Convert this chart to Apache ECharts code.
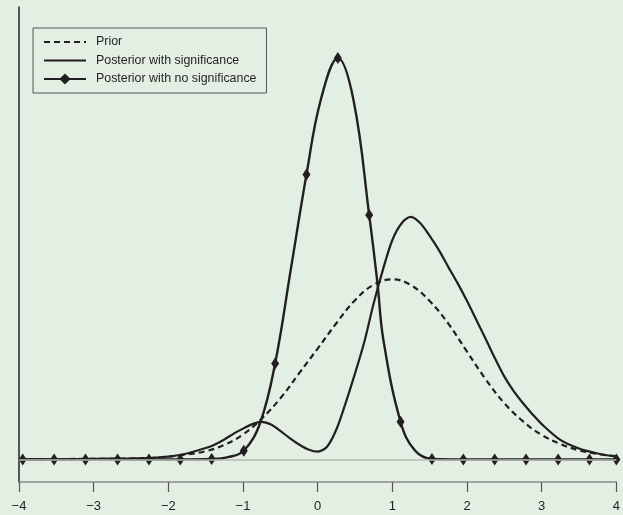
<!DOCTYPE html>
<html>
<head>
<meta charset="utf-8">
<script src="https://cdn.jsdelivr.net/npm/echarts@6/dist/echarts.min.js"></script>
<style>
  html, body { margin: 0; padding: 0; background: #e3efe3; }
  #chart { width: 623px; height: 515px; }
</style>
</head>
<body>
<div id="chart"></div>
<script>
// values (y in arbitrary density units)
const priorX = [-4, -3.75, -3.5, -3.25, -3, -2.75, -2.5, -2.25, -2, -1.75, -1.5, -1.25, -1, -0.75, -0.5, -0.25, 0, 0.25, 0.5, 0.75, 1, 1.25, 1.5, 1.75, 2, 2.25, 2.5, 2.75, 3, 3.25, 3.5, 3.75, 4]
const priorY = [0, 0, 0, 0.001, 0.001, 0.001, 0.002, 0.003, 0.006, 0.011, 0.018, 0.032, 0.055, 0.09, 0.135, 0.19, 0.245, 0.301, 0.352, 0.386, 0.398, 0.385, 0.35, 0.3, 0.238, 0.177, 0.124, 0.084, 0.054, 0.034, 0.02, 0.012, 0.007]

const sigX = [-4, -3.5, -3, -2.5, -2.25, -2, -1.75,
  -1.5, -1.375, -1.25, -1.125, -1, -0.875, -0.75, -0.625, -0.5, -0.375, -0.25, -0.125,
  0, 0.125, 0.25, 0.375, 0.5, 0.625, 0.75, 0.875, 1, 1.125, 1.25, 1.375, 1.5, 1.625, 1.75, 1.875,
  2, 2.125, 2.25, 2.375, 2.5, 2.625, 2.75, 2.875, 3, 3.25, 3.5, 3.75, 4]
const sigY = [0, 0, 0.001, 0.002, 0.003, 0.006, 0.013,
  0.025, 0.033, 0.044, 0.057, 0.068, 0.078, 0.083, 0.077, 0.063, 0.047, 0.033, 0.022,
  0.017, 0.028, 0.066, 0.125, 0.19, 0.26, 0.345, 0.42, 0.485, 0.522, 0.536, 0.522, 0.494, 0.462, 0.425, 0.389,
  0.35, 0.308, 0.266, 0.223, 0.183, 0.151, 0.124, 0.1, 0.078, 0.043, 0.024, 0.013, 0.006]

// diamond points of the "no significance" curve
const noSigMarkX = [-3.95, -3.53, -3.11, -2.68, -2.26, -1.84, -1.42, -0.99, -0.57, -0.15, 0.27, 0.69, 1.11, 1.53, 1.95, 2.37, 2.79, 3.22, 3.64, 4]
const noSigMarkY = [0, 0, 0, 0, 0, 0, 0.001, 0.019, 0.212, 0.63, 0.887, 0.54, 0.083, 0.001, 0, 0, 0, 0, 0, 0]
// extra points on the same curve, drawn without a diamond
const noSigCurveX = [-4, -1.2, -0.77, -0.36, 0.04, 0.48, 0.8, 0.88, 1.3]
const noSigCurveY = [0, 0.005, 0.081, 0.42, 0.794, 0.794, 0.39, 0.264, 0.02]

const names = ['Prior', 'Posterior with significance', 'Posterior with no significance']

const ink = '#231f20'
const zip = (xs, ys) => xs.map((x, i) => [x, ys[i]])

const noSigData = noSigMarkX.map((x, i) => ({ value: [x, noSigMarkY[i]] }))
  .concat(noSigCurveX.map((x, i) => ({ value: [x, noSigCurveY[i]], symbol: 'none' })))
  .sort((a, b) => a.value[0] - b.value[0])

const chart = echarts.init(document.getElementById('chart'))
chart.setOption({
  backgroundColor: '#e3efe3',
  animation: false,
  textStyle: { fontFamily: 'Liberation Sans, Arial, sans-serif' },
  grid: { left: 19, right: 4, top: 7, bottom: 33 },
  legend: {
    data: [
      { name: names[0], itemStyle: { opacity: 0 } },
      { name: names[1], itemStyle: { opacity: 0 } },
      { name: names[2] }
    ],
    orient: 'vertical',
    left: 33,
    top: 28,
    padding: [8, 10, 8, 10],
    itemWidth: 42,
    itemHeight: 14,
    itemGap: 6.5,
    borderColor: '#555',
    borderWidth: 1,
    textStyle: { fontSize: 12.4, color: ink, padding: [0, 0, 0, 5] }
  },
  xAxis: {
    type: 'value',
    min: -4,
    max: 4,
    interval: 1,
    axisLine: { onZero: false, lineStyle: { color: '#8c8c8c', width: 1.5 } },
    axisTick: { length: 10, lineStyle: { color: '#555', width: 1.2 } },
    axisLabel: {
      margin: 18,
      fontSize: 13,
      color: ink,
      formatter: v => String(v).replace('-', '\u2212')
    },
    splitLine: { show: false }
  },
  yAxis: {
    type: 'value',
    min: -0.05,
    max: 1.0,
    axisLine: { show: true, onZero: false, lineStyle: { color: ink, width: 1.5 } },
    axisTick: { show: false },
    axisLabel: { show: false },
    splitLine: { show: false }
  },
  series: [
    {
      name: names[0],
      type: 'line',
      data: zip(priorX, priorY),
      smooth: 0.4,
      symbol: 'none',
      lineStyle: { color: ink, width: 2.2, type: [6, 4] },
      itemStyle: { color: ink },
      markLine: {
        silent: true,
        symbol: 'none',
        label: { show: false },
        lineStyle: { color: '#b3bab3', width: 1.5, type: 'solid' },
        data: [{ yAxis: 0 }]
      }
    },
    {
      name: names[1],
      type: 'line',
      data: zip(sigX, sigY),
      smooth: 0.3,
      symbol: 'none',
      lineStyle: { color: ink, width: 2.2 },
      itemStyle: { color: ink }
    },
    {
      name: names[2],
      type: 'line',
      data: noSigData,
      smooth: 0.4,
      symbol: 'diamond',
      symbolSize: [8, 12],
      showAllSymbol: true,
      lineStyle: { color: ink, width: 2.4 },
      itemStyle: { color: ink }
    }
  ]
})
</script>
</body>
</html>
